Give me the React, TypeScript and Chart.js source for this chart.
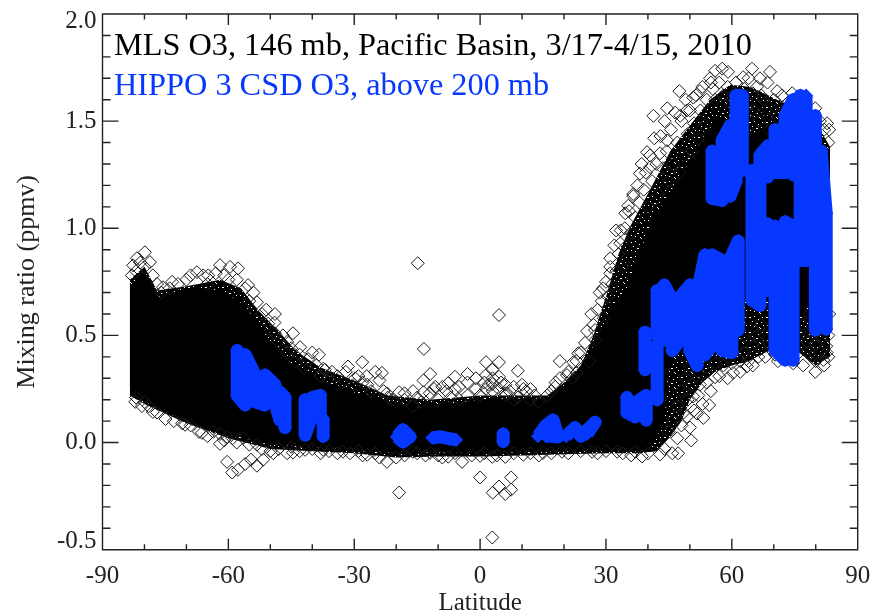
import React, { useEffect, useRef } from "react";
import { Chart, registerables } from "chart.js";

Chart.register(...registerables);

const TITLE_BLACK = "MLS O3, 146 mb, Pacific Basin, 3/17-4/15, 2010";
const TITLE_BLUE = "HIPPO 3 CSD O3, above 200 mb";
const X_LABEL = "Latitude";
const Y_LABEL = "Mixing ratio (ppmv)";
const X_TICKS = [-90, -60, -30, 0, 30, 60, 90];
const X_MINOR = [-80, -70, -50, -40, -20, -10, 10, 20, 40, 50, 70, 80];
const Y_TICKS = [-0.5, 0, 0.5, 1, 1.5, 2];
const Y_MINOR = [-0.4, -0.3, -0.2, -0.1, 0.1, 0.2, 0.3, 0.4, 0.6, 0.7, 0.8, 0.9, 1.1, 1.2, 1.3, 1.4, 1.6, 1.7, 1.8, 1.9];

// Outline of the part of the MLS cloud where the diamonds merge into solid black
const MLS_DENSE_UPPER: [number, number][] = [
  [-83.5, 0.72], [-81, 0.78], [-79, 0.77], [-76.5, 0.68], [-73, 0.7], [-68, 0.72], [-64, 0.71], [-60, 0.69],
  [-56, 0.64], [-54, 0.58], [-50, 0.47], [-45, 0.37], [-40, 0.32], [-35, 0.27], [-28, 0.22], [-19, 0.175],
  [-10, 0.175], [0, 0.2], [10, 0.2], [15, 0.2], [20, 0.26], [24, 0.36], [27, 0.45], [31, 0.62], [35, 0.72],
  [41, 1.04], [46, 1.19], [53, 1.41], [56.5, 1.52], [58, 1.5], [62, 1.4], [66, 1.45], [70, 1.5], [83.4, 1.36],
];
const MLS_DENSE_LOWER: [number, number][] = [
  [-83.5, 0.26], [-82.5, 0.22], [-76, 0.15], [-68, 0.08], [-60, 0.04], [-50, -0.01], [-40, -0.02], [-30, -0.03],
  [-20, -0.05], [-10, -0.045], [0, -0.05], [10, -0.045], [20, -0.04], [30, -0.04], [38, -0.04], [41, -0.01],
  [43, 0.06], [44, 0.12], [44.6, 0.3], [46, 0.42], [50, 0.44], [57, 0.47], [64, 0.7], [70, 0.68], [75, 0.55], [78, 0.65], [83.4, 0.7],
];
// Outline of the speckled part of the cloud, where diamonds still overlap heavily
const MLS_SPECKLE_UPPER: [number, number][] = [
  [-83.5, 0.76], [-80, 0.82], [-77, 0.71], [-70, 0.73], [-62, 0.76], [-57, 0.72], [-53, 0.62], [-48, 0.52], [-44, 0.43],
  [-38, 0.35], [-30, 0.29], [-22, 0.22], [-12, 0.2], [0, 0.22], [10, 0.22], [16, 0.22], [20, 0.28], [24, 0.36], [27, 0.5],
  [30, 0.68], [33, 0.88], [35.8, 1.01], [40.5, 1.18], [45.3, 1.36], [50, 1.48], [54.8, 1.6], [59.6, 1.67], [64, 1.66],
  [66.7, 1.64], [73.9, 1.57], [81, 1.46], [83.4, 1.38],
];
const MLS_SPECKLE_LOWER: [number, number][] = [
  [-83.5, 0.22], [-80, 0.18], [-70, 0.09], [-60, 0.02], [-50, -0.03], [-40, -0.04], [-30, -0.05], [-20, -0.07], [-10, -0.065],
  [0, -0.065], [10, -0.06], [20, -0.055], [30, -0.05], [38, -0.05], [42, -0.04], [45, 0.02], [48, 0.1], [50, 0.2], [53, 0.28],
  [56, 0.33], [60, 0.36], [64, 0.38], [68, 0.42], [72, 0.45], [76, 0.42], [80, 0.36], [83.4, 0.4],
];

const MLS_ISOLATED: [number, number][] = [
  [-14.85, 0.837], [4.5, 0.595], [-19.3, -0.233], [2.9, -0.443], [0, -0.163], [3, -0.234], [4.5, -0.205], [6, -0.24],
  [7.4, -0.163], [7.4, -0.22], [-13.4, 0.437], [-11.9, 0.32], [-13.5, 0.29], [-13.5, 0.235], [-10.7, 0.26], [-3, 0.32],
  [-6, 0.307], [-7.6, 0.277], [1.4, 0.375], [4.5, 0.375], [9, 0.335], [1.4, 0.315], [4.5, 0.307], [2.9, 0.34],
  [1.4, 0.25], [2.9, 0.273], [4.5, 0.25], [10.3, 0.25], [6, 0.23], [9, 0.21],
  [-5, 0.26], [-3, 0.28], [-1, 0.3], [1, 0.28], [3, 0.3], [6, 0.27], [8, 0.26], [10, 0.27], [12, 0.25], [-9, 0.26], [-11, 0.25],
  [-16, 0.24], [-18, 0.23],
];
const MLS_SOUTH_EDGE: [number, number][] = [
  [-79.9, 0.888], [-81.8, 0.86], [-78.7, 0.842], [-82.7, 0.827], [-75.6, 0.725], [-73.4, 0.75], [-67.5, 0.795],
  [-64.8, 0.78], [-62, 0.828], [-59.6, 0.82], [-57.7, 0.813], [-55.3, 0.735], [-53.2, 0.655], [-48.9, 0.6],
  [-50.5, 0.555], [-44.6, 0.51], [-48.9, 0.51], [-46, 0.47], [-42.9, 0.445], [-40, 0.42], [-38.4, 0.41], [-37.4, 0.345],
  [-35.3, 0.33], [-31.5, 0.355], [-28.1, 0.375], [-25, 0.33], [-23.4, 0.325], [-29.8, 0.3], [-26.9, 0.27], [-19.3, 0.235],
  [-22.2, 0.23], [-82.2, 0.19], [-80.6, 0.17], [-78, 0.143], [-70.3, 0.083], [-66.3, 0.045], [-63.6, 0.05], [-62, -0.006],
  [-60.3, 0.027], [-60.3, -0.09], [-59.1, -0.14], [-57.7, -0.127], [-56, -0.1], [-54.6, -0.08], [-53.2, -0.108], [-51.7, -0.08],
  [-56.5, 0.022], [-53.2, -0.01], [-49.3, -0.05], [-44.6, -0.047], [-41.7, -0.034], [-37.4, -0.034], [-32.7, -0.043],
  [-26.9, -0.057], [-22.2, -0.09], [-16, -0.043], [-11.9, -0.048], [-7.6, -0.066], [-4.3, -0.09], [0, -0.062], [2.9, -0.067],
  [6, -0.067], [10.3, -0.057], [15, -0.048], [19.5, -0.043], [26.7, -0.043], [32.7, -0.043], [37, -0.043],
  [-83, 0.78], [-82, 0.8], [-81, 0.84], [-80, 0.82], [-78, 0.78], [-77, 0.74], [-76, 0.7], [-74, 0.72], [-72, 0.74], [-70, 0.76],
  [-69, 0.78], [-66, 0.78], [-65, 0.74], [-63, 0.79], [-61, 0.78], [-60, 0.76], [-58, 0.76], [-56, 0.72], [-55, 0.66], [-54, 0.7],
  [-52, 0.6], [-51, 0.62], [-50, 0.52], [-49, 0.56], [-48, 0.47], [-47, 0.5], [-46, 0.42], [-45, 0.44], [-44, 0.38], [-43, 0.41],
  [-42, 0.35], [-41, 0.39], [-39, 0.36], [-38, 0.31], [-37, 0.34], [-36, 0.3], [-34, 0.31], [-33, 0.28], [-32, 0.33], [-30, 0.27],
  [-29, 0.31], [-28, 0.28], [-27, 0.31], [-26, 0.24], [-24, 0.29], [-23, 0.24], [-22, 0.21], [-21, 0.2], [-20, 0.19], [-18, 0.2],
  [-16, 0.17], [-15, 0.21], [-14, 0.19], [-12, 0.23], [-10, 0.2], [-8, 0.24], [-7, 0.21], [-6, 0.25], [-5, 0.2], [-3, 0.22],
  [-1, 0.25], [0, 0.22], [2, 0.27], [3, 0.24], [5, 0.28], [6, 0.22], [7, 0.24], [8, 0.2], [11, 0.24], [12, 0.2], [13, 0.22],
  [14, 0.19], [16, 0.22], [17, 0.24], [18, 0.28], [19, 0.3], [21, 0.33], [22, 0.3], [23, 0.38],
  [-82, 0.21], [-80, 0.19], [-79, 0.17], [-77, 0.14], [-75, 0.11], [-73, 0.1], [-71, 0.09], [-69, 0.08], [-67, 0.05], [-65, 0.03],
  [-62, 0.04], [-61, 0.01], [-59, 0.02], [-58, 0], [-55, -0.01], [-52, -0.03], [-50, -0.04], [-48, -0.03], [-46, -0.05], [-45, -0.02],
  [-43, -0.04], [-40, -0.03], [-38, -0.05], [-36, -0.04], [-34, -0.05], [-31, -0.05], [-29, -0.04], [-28, -0.06], [-25, -0.05],
  [-24, -0.07], [-20, -0.07], [-18, -0.06], [-15, -0.05], [-13, -0.06], [-10, -0.06], [-9, -0.07], [-6, -0.05], [-2, -0.06], [1, -0.05],
  [4, -0.06], [8, -0.05], [12, -0.05], [14, -0.06], [17, -0.05], [21, -0.05], [24, -0.04], [28, -0.05], [30, -0.04], [34, -0.05],
  [36, -0.06], [40, -0.05], [44, -0.03],
];
const MLS_NORTH_LOWER_EDGE: [number, number][] = [
  [54.6, 0.175], [53.2, 0.115], [50.3, 0.01], [47.2, -0.05], [45.8, -0.05], [42.9, -0.055], [38.6, -0.065], [51.7, 0.135],
  [49.3, 0.12], [50.8, 0.215], [52.4, 0.27], [56, 0.305], [60.3, 0.325], [63.6, 0.355], [66.3, 0.4], [70.3, 0.41], [74.6, 0.37],
  [79.9, 0.33], [81.8, 0.385], [78, 0.42], [82.6, 0.42],
  [45, 0.05], [46, 0.1], [47, 0.02], [47, 0.17], [48, 0.08], [48, 0.24], [48.5, 0.14], [49, 0.3], [49.5, 0.2], [50, 0.07], [50, 0.36],
  [50.5, 0.27], [51, 0.15], [51, 0.42], [52, 0.22], [52, 0.33], [53, 0.18], [53, 0.4], [54, 0.28], [54, 0.35], [55, 0.24], [55, 0.44],
  [56, 0.37], [57, 0.31], [57, 0.42], [58, 0.36], [59, 0.3], [59, 0.4], [60, 0.37], [61, 0.44], [62, 0.33], [62, 0.38], [63, 0.42],
  [63, 0.5], [64, 0.38], [65, 0.45], [65, 0.36], [66, 0.5], [67, 0.44], [67, 0.55], [68, 0.4], [68, 0.5], [69, 0.46], [70, 0.52],
  [70, 0.44], [71, 0.38], [71, 0.5], [71.5, 0.6], [72, 0.45], [76, 0.5], [76, 0.42], [77, 0.36], [77, 0.55], [78, 0.47], [78.5, 0.6],
  [79, 0.4], [79, 0.52], [80, 0.46], [80, 0.38], [80.5, 0.6], [81, 0.42], [81, 0.53], [81.5, 0.48], [82, 0.36], [82, 0.58], [82.5, 0.45],
  [83, 0.5], [83, 0.4], [83.2, 0.6],
];
const MLS_NORTH_UPPER_EDGE: [number, number][] = [
  [47.5, 1.64], [41.3, 1.525], [44.6, 1.56], [39.8, 1.355], [42.9, 1.35], [44.6, 1.41], [38.1, 1.255], [40.5, 1.285], [35.3, 1.105],
  [36.5, 1.16], [32.4, 0.99], [34.6, 1.07], [31, 0.86], [33.4, 0.93], [29.3, 0.72], [31, 0.79], [19, 0.38], [17.9, 0.26], [20.7, 0.315],
  [22.2, 0.375], [23.4, 0.417], [25, 0.465], [27.4, 0.525], [23, 0.325],
  [54.8, 1.7], [56, 1.735], [59.1, 1.73], [57.7, 1.745], [64.8, 1.745], [69.1, 1.73], [66.7, 1.7], [62.7, 1.705], [70.8, 1.64], [74.4, 1.63],
  [52.4, 1.64], [50.8, 1.61], [55.5, 1.65], [65, 1.63], [67.5, 1.6], [72, 1.565], [79.9, 1.56], [82.7, 1.49], [47.7, 1.525], [49.3, 1.55],
  [24, 0.42], [25.5, 0.52], [26, 0.38], [26.5, 0.6], [27, 0.55], [27.5, 0.48], [28, 0.62], [28.5, 0.7], [29, 0.66], [29.5, 0.58], [30, 0.75],
  [30.5, 0.68], [31, 0.82], [31.5, 0.74], [32, 0.92], [32.5, 0.8], [33, 0.88], [33.5, 0.99], [34, 0.82], [34.5, 1], [35, 0.92], [35.5, 1.08],
  [36, 0.98], [36.5, 1.15], [37, 1.05], [37.5, 1.2], [38, 1.12], [38.5, 1.3], [39, 1.18], [39.5, 1.26], [40, 1.1], [40.5, 1.34], [41, 1.22],
  [41.5, 1.42], [42, 1.3], [42.5, 1.16], [43, 1.43], [43.5, 1.28], [44, 1.5], [44.5, 1.36], [45, 1.22], [45.5, 1.46], [46, 1.3], [46.5, 1.54],
  [47, 1.4], [47.5, 1.26], [48, 1.5], [48.5, 1.34], [49, 1.6], [49.5, 1.44], [50, 1.55], [50.5, 1.36], [51, 1.49], [51.5, 1.62], [52, 1.42],
  [52.5, 1.55], [53, 1.66], [53.5, 1.48], [54, 1.6], [55, 1.68], [56, 1.6], [57, 1.68], [58, 1.62], [59, 1.66], [60, 1.58], [61, 1.68],
  [62, 1.6], [63, 1.65], [63.5, 1.56], [64, 1.7], [65, 1.55], [66, 1.66], [66.5, 1.5], [67, 1.62], [68, 1.55], [68.5, 1.68], [69, 1.46],
  [70, 1.6], [71, 1.52], [72, 1.62], [73, 1.58], [74, 1.55], [75, 1.6], [80, 1.5], [81, 1.5], [82, 1.46], [83, 1.4], [83.2, 1.46],
];

// HIPPO 3 flight legs: each inner list is one continuous stretch of the track
const HIPPO_LEGS: [number, number][][] = [
  [[-57.9, 0.43], [-57.9, 0.22], [-56, 0.175], [-56, 0.41], [-53.6, 0.315], [-53.6, 0.19], [-51.3, 0.175], [-51.3, 0.315], [-48.9, 0.27], [-48.9, 0.185], [-47.7, 0.105], [-47.7, 0.235], [-46.5, 0.21], [-46.5, 0.07]],
  [[-41.7, 0.2], [-41.7, 0.035], [-40, 0.13], [-40, 0.21], [-38.1, 0.22], [-38.1, 0.115], [-37.4, 0.105], [-37.4, 0.03]],
  [[-19.8, 0.027], [-18.4, 0.06], [-16.7, 0.027], [-18.4, 0.003], [-19.8, 0.027]],
  [[-11.4, 0.022], [-9.5, 0.027], [-7.2, 0.017], [-5.7, 0.013]],
  [[5.5, 0.04], [5.5, 0.005]],
  [[13.8, 0.03], [15.7, 0.08], [17.4, 0.105], [18.6, 0.027], [15.7, 0.03]],
  [[20.5, 0.03], [22.6, 0.07], [24, 0.03], [26.2, 0.07], [27.4, 0.095], [25.5, 0.04]],
  [[35, 0.21], [35, 0.14], [37, 0.12], [37, 0.185], [39.6, 0.22], [39.6, 0.105]],
  [[39.3, 0.515], [39.3, 0.34]],
  [[42.2, 0.455], [42.2, 0.2]],
  [[42.2, 0.71], [42.2, 0.5], [43.9, 0.48], [43.9, 0.735], [45.8, 0.665], [45.8, 0.43], [47.7, 0.48], [47.7, 0.68], [50, 0.735], [50, 0.43], [51.7, 0.36], [51.7, 0.7], [53.6, 0.875], [53.6, 0.41], [55.3, 0.455], [55.3, 0.875], [57.7, 0.85], [57.7, 0.43], [60, 0.42], [60, 0.875], [61.5, 0.94], [61.5, 0.525]],
  [[55.3, 1.36], [55.3, 1.14], [57.7, 1.13], [57.7, 1.41], [59.6, 1.48], [59.6, 1.15], [61, 1.22], [61, 1.62], [62.5, 1.62], [62.5, 1.27]],
  [[64.8, 1.27], [64.8, 0.665], [66.7, 0.64], [66.7, 1.34], [68.6, 1.385], [68.6, 1.24]],
  [[68.6, 1.02], [68.6, 0.71]],
  [[70.3, 1.46], [70.3, 1.26], [72.7, 1.26], [72.7, 1.525], [74.6, 1.6], [74.6, 1.25]],
  [[70.3, 1.01], [70.3, 0.43], [72.7, 0.385], [72.7, 1.03], [74.6, 1.01], [74.6, 0.385]],
  [[76.3, 1.62], [76.3, 0.85], [77.7, 0.85], [77.7, 1.62]],
  [[79.9, 1.525], [79.9, 0.525], [81.3, 0.55], [81.3, 1.36], [82.5, 1.07], [82.5, 0.53]],
];

const BLUE = "#0638ff";
const BLACK = "#000000";
const SERIF = '"Liberation Serif", "Times New Roman", serif';

const toPts = (rows: [number, number][]) => rows.map(([x, y]) => ({ x, y }));

// Speckle texture: black with the few white pixels left between overlapping diamonds
const SPECKLE_PIXELS = [[1, 2], [2, 2], [6, 1], [10, 4], [14, 2], [4, 6], [8, 8], [9, 8], [13, 7], [2, 10], [6, 11], [11, 12], [15, 10], [12, 13]];
function speckle(ctx: CanvasRenderingContext2D) {
  const tile = document.createElement("canvas");
  tile.width = 17;
  tile.height = 15;
  const t = tile.getContext("2d")!;
  t.fillStyle = "#000";
  t.fillRect(0, 0, 17, 15);
  t.fillStyle = "#fff";
  SPECKLE_PIXELS.forEach(([x, y]) => t.fillRect(x, y, 1, 1));
  return ctx.createPattern(tile, "repeat")!;
}

const decorations = {
  id: "decorations",
  afterDatasetsDraw(chart: any) {
    const { ctx, chartArea: a, scales } = chart;
    const sx = scales.x;
    const sy = scales.y;
    ctx.save();
    ctx.strokeStyle = "#222";
    ctx.lineWidth = 1.4;
    ctx.beginPath();
    const xt = (vals: number[], len: number) => {
      vals.forEach((v) => {
        const p = sx.getPixelForValue(v);
        ctx.moveTo(p, a.bottom);
        ctx.lineTo(p, a.bottom - len);
        ctx.moveTo(p, a.top);
        ctx.lineTo(p, a.top + len);
      });
    };
    const yt = (vals: number[], len: number) => {
      vals.forEach((v) => {
        const p = sy.getPixelForValue(v);
        ctx.moveTo(a.left, p);
        ctx.lineTo(a.left + len, p);
        ctx.moveTo(a.right, p);
        ctx.lineTo(a.right - len, p);
      });
    };
    xt(X_TICKS, 11);
    xt(X_MINOR, 5.5);
    yt(Y_TICKS, 16);
    yt(Y_MINOR, 8);
    ctx.rect(a.left, a.top, a.right - a.left, a.bottom - a.top);
    ctx.stroke();
    // The two end labels of the value axis sit just inside the frame
    ctx.font = `25px ${SERIF}`;
    ctx.fillStyle = "#222";
    ctx.textAlign = "right";
    ctx.textBaseline = "middle";
    ctx.fillText("2.0", a.left - 6, sy.getPixelForValue(2) + 7.5);
    ctx.fillText("-0.5", a.left - 6, sy.getPixelForValue(-0.5) - 8.5);
    ctx.textBaseline = "alphabetic";
    ctx.textAlign = "left";
    ctx.font = `32.3px ${SERIF}`;
    ctx.fillStyle = BLACK;
    ctx.fillText(TITLE_BLACK, 114, 55);
    ctx.fillStyle = BLUE;
    ctx.fillText(TITLE_BLUE, 114, 95);
    ctx.restore();
  },
};

const noPadding = (s: any) => {
  s.paddingLeft = 0;
  s.paddingRight = 0;
  s.paddingTop = 0;
  s.paddingBottom = 0;
};

export default function App() {
  const ref = useRef<HTMLCanvasElement>(null);
  useEffect(() => {
    if (!ref.current) return;
    const hippo: any[] = [];
    HIPPO_LEGS.forEach((leg, i) => {
      if (i > 0) hippo.push({ x: leg[0][0], y: null });
      hippo.push(...toPts(leg));
    });
    const mls = [...MLS_ISOLATED, ...MLS_SOUTH_EDGE, ...MLS_NORTH_LOWER_EDGE, ...MLS_NORTH_UPPER_EDGE];
    const tex = speckle(ref.current.getContext("2d")!);
    const chart = new Chart(ref.current, {
      type: "scatter",
      data: {
        datasets: [
          { label: "MLS speckle upper", data: toPts(MLS_SPECKLE_UPPER), showLine: true, pointRadius: 0, borderWidth: 0, backgroundColor: tex, fill: "+1", order: 6 },
          { label: "MLS speckle lower", data: toPts(MLS_SPECKLE_LOWER), showLine: true, pointRadius: 0, borderWidth: 0, fill: false, order: 7 },
          { label: "MLS dense upper", data: toPts(MLS_DENSE_UPPER), showLine: true, pointRadius: 0, borderWidth: 0, backgroundColor: BLACK, fill: "+1", order: 4 },
          { label: "MLS dense lower", data: toPts(MLS_DENSE_LOWER), showLine: true, pointRadius: 0, borderWidth: 0, fill: false, order: 5 },
          {
            label: "MLS O3",
            data: toPts(mls),
            pointStyle: "rectRot",
            pointRadius: 6.5,
            pointBorderWidth: 1,
            pointBorderColor: "#1c1c1c",
            pointBackgroundColor: "rgba(0,0,0,0)",
            showLine: false,
            order: 2,
          },
          {
            label: "HIPPO 3 CSD O3",
            data: hippo,
            showLine: true,
            spanGaps: false,
            borderColor: BLUE,
            borderWidth: 13,
            borderJoinStyle: "round",
            pointStyle: "rectRot",
            pointRadius: 7,
            pointBorderWidth: 0,
            pointBackgroundColor: BLUE,
            fill: false,
            order: 1,
          },
        ],
      } as any,
      options: {
        animation: false,
        responsive: false,
        layout: { padding: { top: 14, right: 19.3, left: 0, bottom: 0 } },
        plugins: { legend: { display: false }, tooltip: { enabled: false }, title: { display: false } },
        scales: {
          x: {
            type: "linear",
            min: -90,
            max: 90,
            afterFit: (s: any) => {
              s.height = 66.3;
              noPadding(s);
            },
            afterBuildTicks: (s: any) => {
              s.ticks = X_TICKS.map((value) => ({ value }));
            },
            grid: { display: false, drawTicks: false },
            border: { display: false },
            ticks: {
              autoSkip: false,
              maxRotation: 0,
              padding: 12,
              color: "#222",
              font: { family: SERIF, size: 25 },
            },
            title: {
              display: true,
              text: X_LABEL,
              color: "#222",
              font: { family: SERIF, size: 25, lineHeight: 1 },
              padding: { top: 0, bottom: 0 },
            },
          },
          y: {
            type: "linear",
            min: -0.5,
            max: 2,
            afterFit: (s: any) => {
              s.width = 102.5;
              noPadding(s);
            },
            afterBuildTicks: (s: any) => {
              s.ticks = Y_TICKS.map((value) => ({ value }));
            },
            grid: { display: false, drawTicks: false },
            border: { display: false },
            ticks: {
              autoSkip: false,
              padding: 6,
              color: "#222",
              font: { family: SERIF, size: 25 },
              callback: (v: any) => (v === 2 || v === -0.5 ? "" : Number(v).toFixed(1)),
            },
            title: {
              display: true,
              text: Y_LABEL,
              color: "#222",
              font: { family: SERIF, size: 26, lineHeight: 1 },
              padding: { top: 14.5, bottom: 0 },
            },
          },
        },
      } as any,
      plugins: [decorations],
    });
    return () => chart.destroy();
  }, []);
  return (
    <canvas
      ref={ref}
      width={877}
      height={616}
      style={{ position: "absolute", left: 0, top: 0, display: "block", width: 877, height: 616 }}
    />
  );
}
